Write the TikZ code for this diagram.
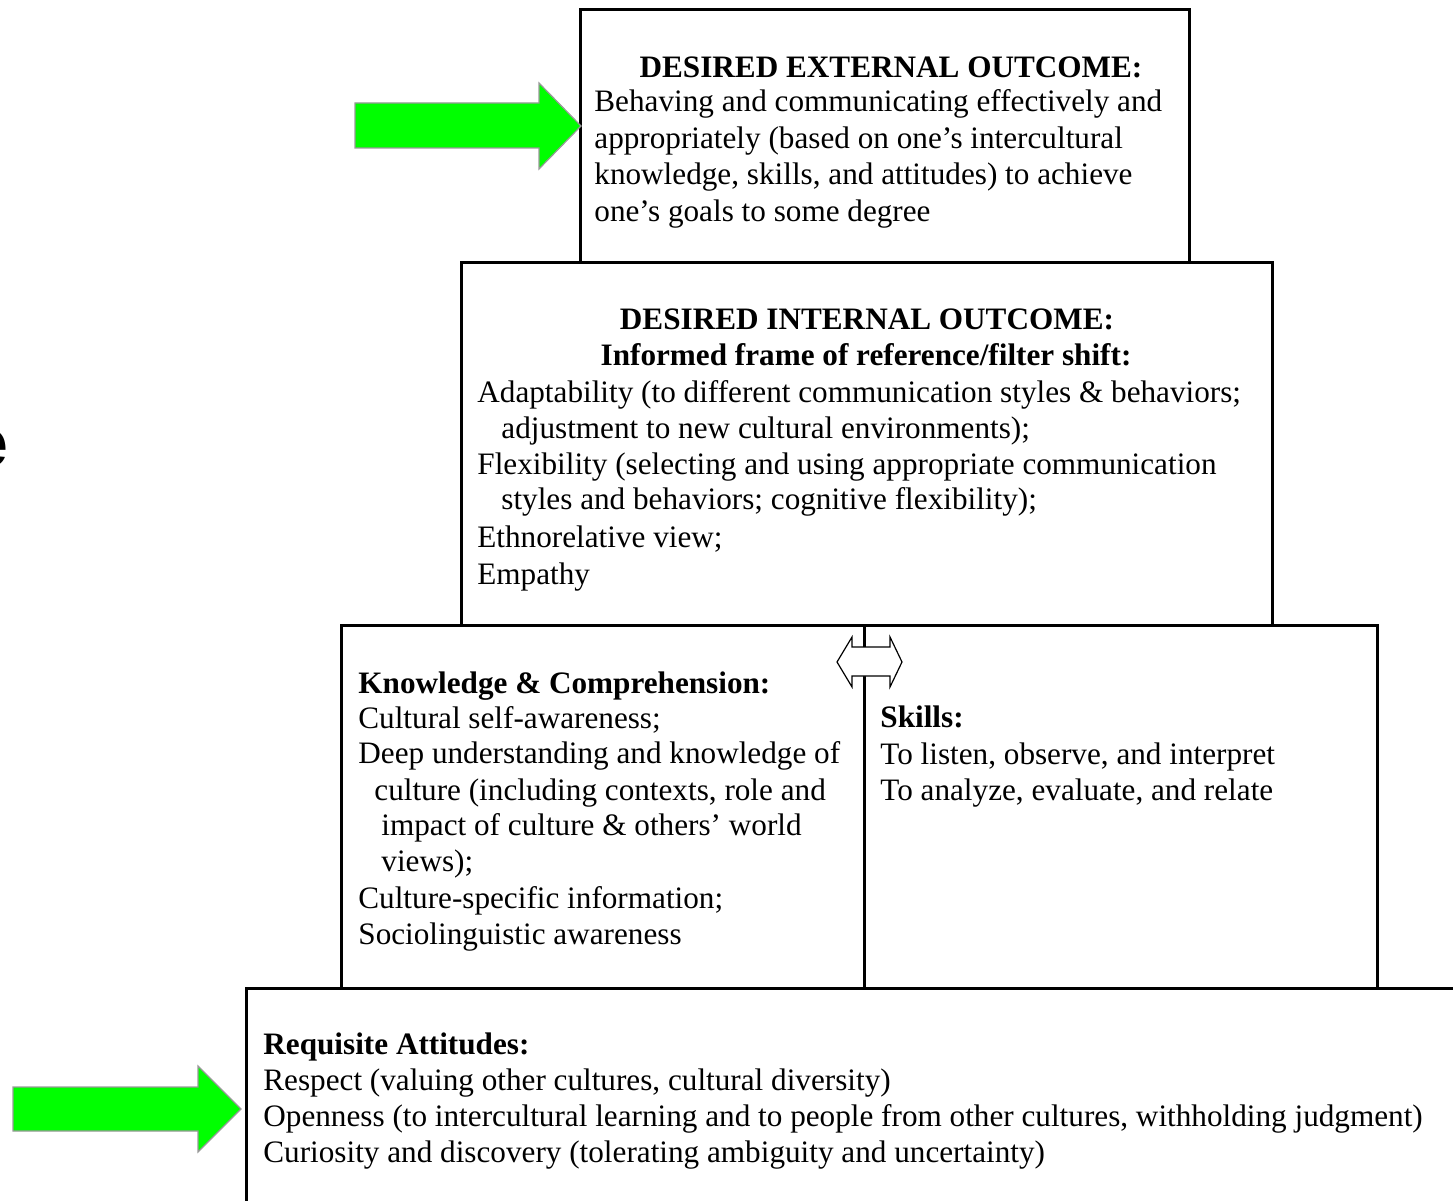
\documentclass[tikz,border=0pt]{standalone}
\usepackage{fontspec}
\setmainfont{Liberation Serif}
\newfontfamily\arialfont{Liberation Sans}
\definecolor{arrowgreen}{HTML}{00FF00}
\definecolor{arrowedge}{HTML}{999999}
\begin{document}
\begin{tikzpicture}[x=0.5bp,y=-0.5bp,
  boxline/.style={line width=1.5bp, black},
  txt/.style={anchor=base west, inner sep=0pt, font=\fontsize{15.6bp}{18bp}\selectfont},
  ttl/.style={anchor=base, inner sep=0pt, font=\fontsize{15.6bp}{18bp}\selectfont\bfseries},
  btxt/.style={txt, font=\fontsize{15.6bp}{18bp}\selectfont\bfseries},
  greenarrow/.style={fill=arrowgreen, draw=arrowedge, line width=0.6bp},
  dblarrow/.style={fill=white, draw=black, line width=0.6bp}]
\useasboundingbox (0,0) rectangle (1453,1201);

% boxes
\draw[boxline] (580,10) rectangle (1189,263);
\draw[boxline] (461,263) rectangle (1272,625);
\draw[boxline] (341,625) rectangle (1377,988);
\draw[boxline] (864,625) -- (864,988);
\draw[boxline] (1500,988) -- (246,988) -- (246,1260);

% double arrow between knowledge and skills
\draw[dblarrow] (837,662) -- (852,637) -- (852,647) -- (890,647) -- (890,637) -- (902,662)
  -- (890,687) -- (890,676) -- (852,676) -- (852,687) -- cycle;

% green arrows
\draw[greenarrow] (355,103) -- (539,103) -- (539,83) -- (581,126) -- (539,169) -- (539,148) -- (355,148) -- cycle;
\draw[greenarrow] (13,1087) -- (198,1087) -- (198,1066) -- (241,1109) -- (198,1152) -- (198,1131) -- (13,1131) -- cycle;

% clipped letter at left edge
\node[anchor=base east, inner sep=0pt, font=\fontsize{34bp}{40bp}\selectfont\arialfont\bfseries] (edge) at (9,467) {e};

% box 1
\node[ttl] (t1) at (891,78) {DESIRED EXTERNAL OUTCOME:};
\node[txt] (a1) at (594,112) {Behaving and communicating effectively and};
\node[txt] (a2) at (594,149) {appropriately (based on one’s intercultural};
\node[txt] (a3) at (594,185) {knowledge, skills, and attitudes) to achieve};
\node[txt] (a4) at (594,222) {one’s goals to some degree};

% box 2
\node[ttl] (t2) at (867,330) {DESIRED INTERNAL OUTCOME:};
\node[ttl] (t3) at (866,366) {Informed frame of reference/filter shift:};
\node[txt] (b1) at (477,403) {Adaptability (to different communication styles \& behaviors;};
\node[txt] (b2) at (501,439) {adjustment to new cultural environments);};
\node[txt] (b3) at (477,475) {Flexibility (selecting and using appropriate communication};
\node[txt] (b4) at (501,510) {styles and behaviors; cognitive flexibility);};
\node[txt] (b5) at (477,548) {Ethnorelative view;};
\node[txt] (b6) at (477,584) {Empathy};

% box 3 left
\node[btxt] (t4) at (358,693) {Knowledge \& Comprehension:};
\node[txt] (c1) at (358,728) {Cultural self-awareness;};
\node[txt] (c2) at (358,763) {Deep understanding and knowledge of};
\node[txt] (c3) at (374,800) {culture (including contexts, role and};
\node[txt] (c4) at (381,835) {impact of culture \& others’ world};
\node[txt] (c5) at (381,871) {views);};
\node[txt] (c6) at (358,908) {Culture-specific information;};
\node[txt] (c7) at (358,944) {Sociolinguistic awareness};

% box 3 right
\node[btxt] (t5) at (880,727) {Skills:};
\node[txt] (d1) at (880,764) {To listen, observe, and interpret};
\node[txt] (d2) at (880,800) {To analyze, evaluate, and relate};

% box 4
\node[btxt] (t6) at (263,1054) {Requisite Attitudes:};
\node[txt] (e1) at (263,1090) {Respect (valuing other cultures, cultural diversity)};
\node[txt] (e2) at (263,1126) {Openness (to intercultural learning and to people from other cultures, withholding judgment)};
\node[txt] (e3) at (263,1162) {Curiosity and discovery (tolerating ambiguity and uncertainty)};
\end{tikzpicture}
\end{document}
